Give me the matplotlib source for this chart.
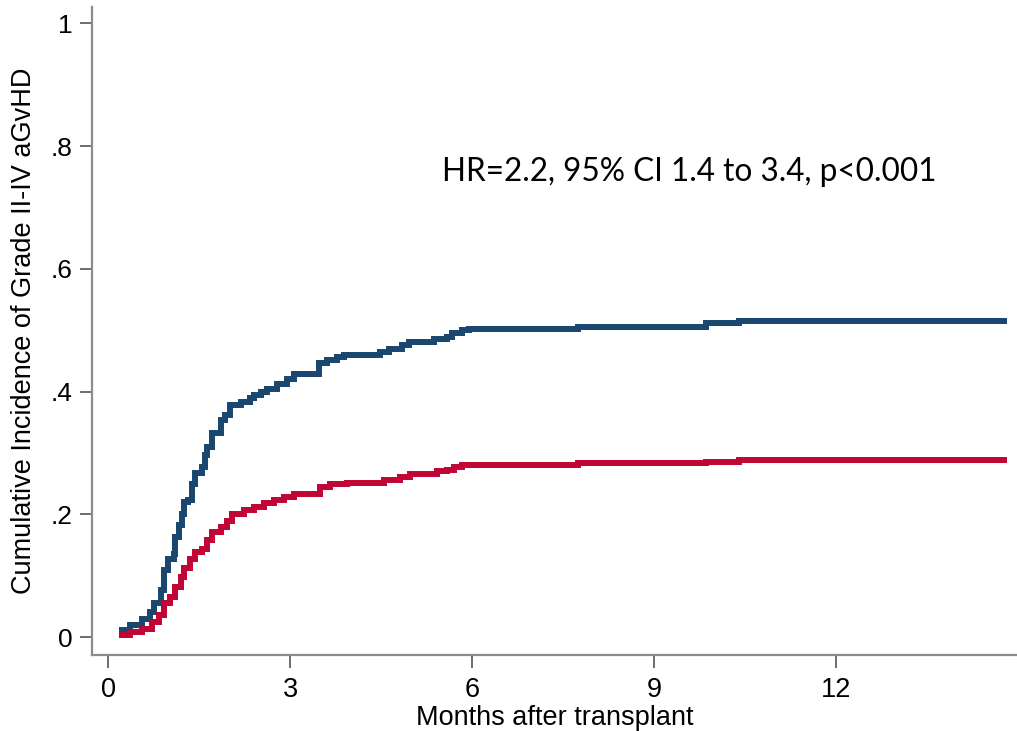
import matplotlib
matplotlib.use("Agg")
import matplotlib.pyplot as plt
from matplotlib import font_manager

# Cumulative incidence step curves (months after transplant, incidence)
months_high = [0.17, 0.36, 0.55, 0.69, 0.75, 0.86, 0.91, 0.99, 1.08, 1.10, 1.16, 1.21,
               1.24, 1.32, 1.38, 1.43, 1.54, 1.60, 1.63, 1.71, 1.85, 1.93, 2.01, 2.18,
               2.34, 2.40, 2.51, 2.62, 2.78, 2.95, 3.06, 3.47, 3.61, 3.77, 3.88, 4.48,
               4.62, 4.84, 4.95, 5.36, 5.58, 5.66, 5.83, 5.94, 7.75, 9.85, 10.40, 14.82]
cif_high = [0.011, 0.020, 0.030, 0.041, 0.055, 0.077, 0.109, 0.128, 0.136, 0.163, 0.182, 0.201,
            0.220, 0.223, 0.250, 0.267, 0.277, 0.296, 0.310, 0.332, 0.353, 0.362, 0.378, 0.383,
            0.389, 0.394, 0.400, 0.405, 0.413, 0.421, 0.429, 0.446, 0.451, 0.457, 0.459, 0.465,
            0.470, 0.476, 0.481, 0.486, 0.489, 0.495, 0.500, 0.502, 0.506, 0.511, 0.515, 0.515]

months_low = [0.17, 0.36, 0.55, 0.72, 0.83, 0.91, 1.02, 1.10, 1.19, 1.24, 1.35, 1.43,
              1.54, 1.63, 1.71, 1.85, 1.96, 2.04, 2.23, 2.40, 2.56, 2.73, 2.89, 3.06,
              3.49, 3.66, 3.93, 4.54, 4.81, 4.98, 5.42, 5.58, 5.69, 5.83, 7.75, 9.85,
              10.40, 14.82]
cif_low = [0.003, 0.009, 0.014, 0.025, 0.036, 0.055, 0.066, 0.082, 0.098, 0.112, 0.128, 0.139,
           0.144, 0.158, 0.172, 0.180, 0.189, 0.200, 0.207, 0.212, 0.218, 0.223, 0.228, 0.234,
           0.245, 0.249, 0.251, 0.256, 0.261, 0.265, 0.270, 0.273, 0.277, 0.280, 0.283, 0.286,
           0.288, 0.288]

x_ticks = [0, 3, 6, 9, 12]
y_ticks = [0, 0.2, 0.4, 0.6, 0.8, 1.0]
y_tick_labels = ["0", ".2", ".4", ".6", ".8", "1"]

annotation = "HR=2.2, 95% CI 1.4 to 3.4, p<0.001"

installed = {f.name for f in font_manager.fontManager.ttflist}
narrow = "Liberation Sans Narrow" if "Liberation Sans Narrow" in installed else "Liberation Sans"
note_font = "Lato" if "Lato" in installed else "DejaVu Sans"

fig = plt.figure(figsize=(10.17, 7.31), dpi=100)
ax = fig.add_axes([0.0905, 0.104, 0.9095, 0.886])

ax.plot(months_high, cif_high, drawstyle="steps-post", color="#1a476f", lw=4.3,
        solid_joinstyle="miter", solid_capstyle="butt")
ax.plot(months_low, cif_low, drawstyle="steps-post", color="#c10534", lw=4.3,
        solid_joinstyle="miter", solid_capstyle="butt")

ax.set_xlim(-0.27, 14.98)
ax.set_ylim(-0.029, 1.026)

ax.set_xticks(x_ticks)
ax.set_xticklabels([str(t) for t in x_ticks], fontfamily=narrow, fontsize=19.5)
ax.set_yticks(y_ticks)
ax.set_yticklabels(y_tick_labels, fontfamily="Liberation Sans", fontsize=19)

for side in ("top", "right"):
    ax.spines[side].set_visible(False)
for side in ("left", "bottom"):
    ax.spines[side].set_color("#8c8c8c")
    ax.spines[side].set_linewidth(1.6)

ax.tick_params(axis="both", direction="out", length=9, width=1.2, color="#555555",
               labelcolor="black")
ax.tick_params(axis="x", pad=7)
ax.tick_params(axis="y", pad=5)

ax.set_xlabel("Months after transplant", fontfamily=narrow, fontsize=19.5, labelpad=1)
ax.set_ylabel("Cumulative Incidence of Grade II-IV aGvHD", fontfamily=narrow, fontsize=19.5,
              labelpad=10)

ax.text(5.5, 0.757, annotation, fontfamily=note_font, fontsize=22.7, ha="left", va="center")

fig.savefig("out.png", dpi=100)
